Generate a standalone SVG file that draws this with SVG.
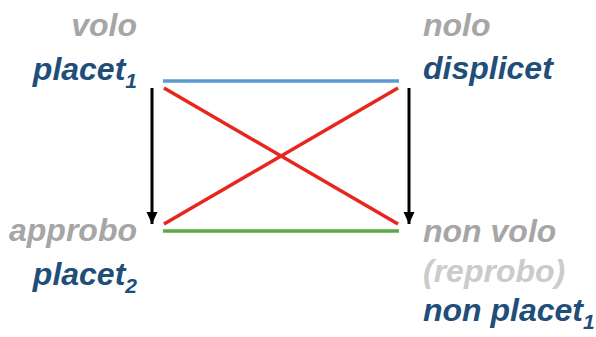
<svg xmlns="http://www.w3.org/2000/svg" width="596" height="337" viewBox="0 0 596 337">
<style>
text{font-family:"Liberation Sans",Arial,sans-serif;font-weight:bold;font-style:italic;font-size:32px}
.g{fill:#a6a6a6}
.lg{fill:#cbcbcb}
.b{fill:#1f4e79}
.sub{font-size:21px}
.l{text-anchor:end}
</style>
<defs>
<marker id="ah2" markerWidth="12" markerHeight="14" refX="12" refY="6" orient="auto" markerUnits="userSpaceOnUse">
<path d="M0,0.5 L12,6 L0,11.5 Z" fill="#000"/>
</marker>
</defs>
<g id="connectors" fill="none" stroke-width="3.5">
<line x1="163" y1="81" x2="399" y2="81" stroke="#5b9bd5"/>
<line x1="163" y1="231" x2="399" y2="231" stroke="#5aaa46"/>
<line x1="164" y1="88" x2="398" y2="224" stroke="#e8251f"/>
<line x1="398" y1="88" x2="164" y2="224" stroke="#e8251f"/>
<line x1="152" y1="88" x2="152" y2="224" stroke="#000" stroke-width="3" marker-end="url(#ah2)"/>
<line x1="409" y1="88" x2="409" y2="224" stroke="#000" stroke-width="3" marker-end="url(#ah2)"/>
</g>
<g id="top-left">
<text class="g l" x="137" y="36">volo</text>
<text class="b l" x="137" y="80">placet<tspan class="sub" dy="8">1</tspan></text>
</g>
<g id="top-right">
<text class="g" x="423" y="36">nolo</text>
<text class="b" x="423" y="79">displicet</text>
</g>
<g id="bottom-left">
<text class="g l" x="137" y="241">approbo</text>
<text class="b l" x="137" y="285">placet<tspan class="sub" dy="8">2</tspan></text>
</g>
<g id="bottom-right">
<text class="g" x="423" y="242">non volo</text>
<text class="lg" x="423" y="282">(reprobo)</text>
<text class="b" x="423" y="321">non placet<tspan class="sub" dy="8">1</tspan></text>
</g>
</svg>
